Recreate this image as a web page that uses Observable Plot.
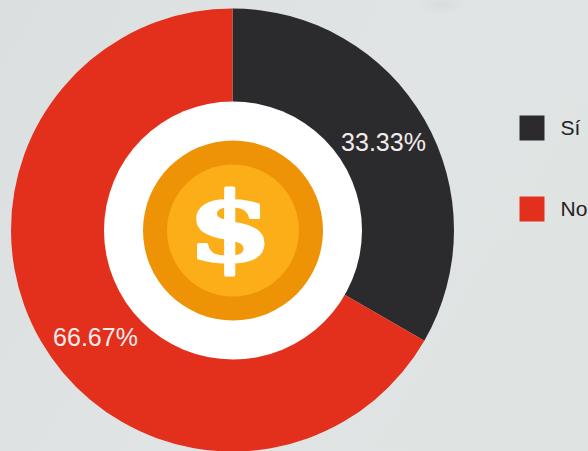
<!DOCTYPE html>
<html><head><meta charset="utf-8">
<script src="https://cdn.jsdelivr.net/npm/d3@7"></script>
<script src="https://cdn.jsdelivr.net/npm/@observablehq/plot@0.6"></script>
<style>
html,body{margin:0;padding:0;width:588px;height:451px;overflow:hidden;background:#dfe3e3}
#c{position:absolute;left:0;top:0;width:588px;height:451px;
background:
 radial-gradient(ellipse 24px 9px at 442px 5px,rgba(208,211,211,.45),rgba(208,211,211,0)),
 linear-gradient(120deg,#dcdfe0 0%,#e1e4e4 50%,#dfe3e2 100%)}
svg{position:absolute;left:0;top:0;background:transparent!important;font-family:"Liberation Sans",Arial,sans-serif}
</style></head><body><div id="c"></div>
<script>
const categories = ["Sí", "No"];
const values = [33.33, 66.67];
const labels = ["33.33%", "66.67%"];
const colors = ["#2b2b2e", "#e3301c"];

const C = {x: 232.5, y: 230};
const pie = d3.pie().sort(null).value(d => d.value);
const slices = pie(categories.map((category, i) => ({category, value: values[i], label: labels[i]})));

function donut(index, scales) {
  const arc = d3.arc().innerRadius(100).outerRadius(221.5);
  const g = d3.create("svg:g").attr("transform", `translate(${scales.x(C.x)},${scales.y(C.y)})`);
  g.selectAll("path").data(slices).join("path")
    .attr("d", arc)
    .attr("fill", d => scales.color(d.data.category));
  return g.node();
}

// widens the dollar glyph around the centre of the coin
function widen(index, scales, channels, dimensions, context, next) {
  const g = next(index, scales, channels, dimensions, context);
  const cx = scales.x(C.x) - 2.5;
  g.setAttribute("transform", `translate(${cx},0) scale(1.28,1) translate(${-cx},0)`);
  return g;
}

const legend = categories.map((category, i) => ({category, lx: 531.5, ly: i === 0 ? 127.5 : 208.5}));
const pct = [
  {t: labels[0], x: 383, y: 142},
  {t: labels[1], x: 95, y: 337}
];
const center = [{x: C.x, y: C.y}];
const coin = [{x: C.x - 2.5, y: C.y}];

const chart = Plot.plot({
  width: 588, height: 451, margin: 0,
  style: {background: "transparent"},
  x: {domain: [0, 588], range: [0, 588], axis: null},
  y: {domain: [0, 451], range: [0, 451], axis: null},
  color: {domain: categories, range: colors},
  marks: [
    donut,
    Plot.dot(center, {x: "x", y: "y", r: 129, fill: "#fff", stroke: null}),
    Plot.dot(center, {x: "x", y: "y", r: 90, fill: "#ee9306"}),
    Plot.dot(center, {x: "x", y: "y", r: 66, fill: "#fbae17"}),
    Plot.text(coin, {x: "x", y: "y", text: () => "$", dy: -2, fontSize: 96, fontWeight: 700, fontFamily: "DejaVu Serif", fill: "#fff", stroke: "#fff", strokeWidth: 3, render: widen}),
    Plot.text(pct, {x: "x", y: "y", text: "t", fontSize: 25, fill: "#f4ecec", fontFamily: "Liberation Sans"}),
    Plot.dot(legend, {x: "lx", y: "ly", symbol: "square", r: 14.1, fill: "category"}),
    Plot.text(legend, {x: "lx", y: "ly", text: "category", dx: 28.5, textAnchor: "start", fontSize: 21, fill: "#222", fontFamily: "Liberation Sans"})
  ]
});
document.getElementById("c").append(chart);
</script></body></html>
